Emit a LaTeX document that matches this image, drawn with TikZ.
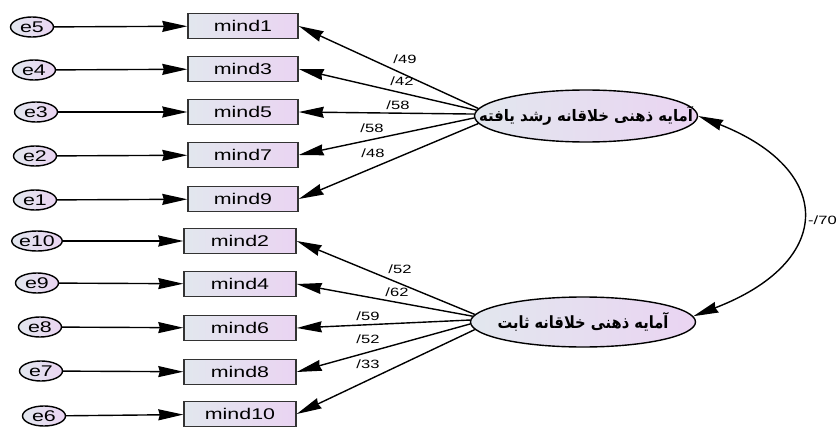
\documentclass[tikz,border=0pt]{standalone}
\usepackage{fontspec}
\setmainfont{Liberation Sans}
\newfontfamily\arabicfont[Script=Arabic]{DejaVu Sans}
\TeXXeTstate=1
\usetikzlibrary{arrows.meta,shapes.geometric}
\definecolor{gl}{RGB}{226,231,238}
\definecolor{gr}{RGB}{234,212,242}
\newcommand{\wtxt}[1]{\scalebox{1.38}[1]{#1}}
\begin{document}
\begin{tikzpicture}[x=1pt,y=-1pt,
  obs/.style={draw=black!80, line width=1.4pt, rectangle, minimum width=110pt, minimum height=25pt, inner sep=0pt, left color=gl, right color=gr, font=\fontsize{15.5}{15.5}\selectfont},
  err/.style={draw=black, line width=1.4pt, ellipse, minimum width=43pt, minimum height=20pt, inner sep=0pt, left color=gl, right color=gr, font=\fontsize{15.5}{15.5}\selectfont},
  lat/.style={draw=black, line width=1.4pt, ellipse, inner ysep=0pt, left color=gl, right color=gr},
  arr/.style={line width=1.4pt, -{Stealth[length=25pt,width=11pt,inset=1.5pt]}},
  lbl/.style={font=\fontsize{12}{12}\selectfont, inner sep=0pt}]
\useasboundingbox (0,0) rectangle (839,428);
% error terms
\node[err] (e5) at (32,27) {\wtxt{e5}};
\node[err] (e4) at (34,70) {\wtxt{e4}};
\node[err] (e3) at (36,112) {\wtxt{e3}};
\node[err] (e2) at (35,156) {\wtxt{e2}};
\node[err] (e1) at (35,200) {\wtxt{e1}};
\node[err] (e10) at (37,241) {\wtxt{e10}};
\node[err] (e9) at (37,283) {\wtxt{e9}};
\node[err] (e8) at (40,327) {\wtxt{e8}};
\node[err] (e7) at (41,371) {\wtxt{e7}};
\node[err] (e6) at (44,416) {\wtxt{e6}};
% observed
\node[obs] (m1) at (243,26) {\wtxt{mind1}};
\node[obs] (m3) at (243,69) {\wtxt{mind3}};
\node[obs] (m5) at (243,112) {\wtxt{mind5}};
\node[obs] (m7) at (243,155) {\wtxt{mind7}};
\node[obs] (m9) at (243,199) {\wtxt{mind9}};
\node[obs, minimum width=112pt] (m2) at (240,241) {\wtxt{mind2}};
\node[obs, minimum width=112pt] (m4) at (240,284) {\wtxt{mind4}};
\node[obs, minimum width=112pt] (m6) at (240,328) {\wtxt{mind6}};
\node[obs, minimum width=112pt] (m8) at (240,372) {\wtxt{mind8}};
\node[obs, minimum width=112pt] (m10) at (240,414) {\wtxt{mind10}};
% latent
\node[lat, inner xsep=-30pt, minimum width=223pt, minimum height=52pt] (l1) at (586,116)
  {\resizebox*{214pt}{19pt}{\arabicfont\bfseries\beginR آمایه ذهنی خلاقانه رشد یافته\endR}};
\node[lat, inner xsep=-12pt, minimum width=225pt, minimum height=50pt] (l2) at (583,322)
  {\resizebox*{171pt}{19pt}{\arabicfont\bfseries\beginR آمایه ذهنی خلاقانه ثابت\endR}};
% error arrows
\foreach \e/\m in {e5/m1,e4/m3,e3/m5,e2/m7,e1/m9,e10/m2,e9/m4,e8/m6,e7/m8,e6/m10}
  \draw[arr] (\e) -- (\m);
% loadings
\draw[arr] (l1.176) -- (m1.east);
\draw[arr] (l1.177.5) -- (m3.east);
\draw[arr] (l1.179.5) -- (m5.east);
\draw[arr] (l1.181.5) -- (m7.east);
\draw[arr] (l1.184) -- (m9.east);
\draw[arr] (l2.176) -- (m2.east);
\draw[arr] (l2.177.5) -- (m4.east);
\draw[arr] (l2.179.5) -- (m6.east);
\draw[arr] (l2.181.5) -- (m8.east);
\draw[arr] (l2.184) -- (m10.east);
% labels
\node[lbl] (v1) at (405,59) {\wtxt{/49}};
\node[lbl] (v2) at (402,81) {\wtxt{/42}};
\node[lbl] (v3) at (398,105) {\wtxt{/58}};
\node[lbl] (v4) at (372,128) {\wtxt{/58}};
\node[lbl] (v5) at (373,153) {\wtxt{/48}};
\node[lbl] (v6) at (400,269) {\wtxt{/52}};
\node[lbl] (v7) at (397,292) {\wtxt{/62}};
\node[lbl] (v8) at (368,316) {\wtxt{/59}};
\node[lbl] (v9) at (368,339) {\wtxt{/52}};
\node[lbl] (v10) at (368,364) {\wtxt{/33}};
% covariance
\draw[line width=1.4pt, {Stealth[length=25pt,width=11pt,inset=1.5pt]}-{Stealth[length=25pt,width=11pt,inset=1.5pt]}]
  (l1.east) .. controls (835,170) and (835,262) .. (l2.3);
\node[lbl, anchor=west] (cv) at (808,220) {\wtxt{-/70}};
\end{tikzpicture}
\end{document}
